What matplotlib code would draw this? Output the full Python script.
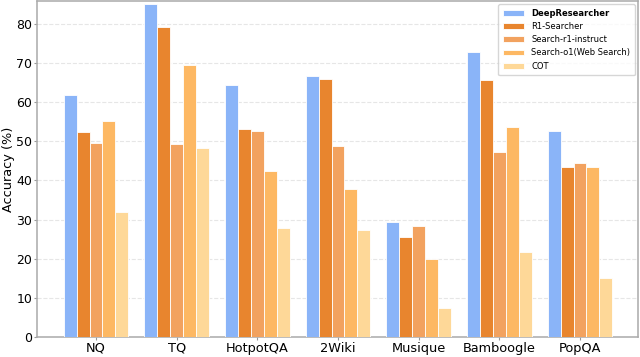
import numpy as np
import matplotlib.pyplot as plt

datasets = ["NQ", "TQ", "HotpotQA", "2Wiki", "Musique", "Bamboogle", "PopQA"]
methods = ["DeepResearcher", "R1-Searcher", "Search-r1-instruct", "Search-o1(Web Search)", "COT"]

deepresearcher = [61.9, 85.0, 64.3, 66.6, 29.3, 72.8, 52.7]
r1_searcher = [52.3, 79.1, 53.1, 65.9, 25.6, 65.6, 43.4]
search_r1_instruct = [49.6, 49.2, 52.5, 48.8, 28.3, 47.2, 44.5]
search_o1 = [55.1, 69.5, 42.3, 37.8, 19.8, 53.6, 43.4]
cot = [32.0, 48.2, 27.9, 27.3, 7.4, 21.6, 15.1]

series = [deepresearcher, r1_searcher, search_r1_instruct, search_o1, cot]
colors = ["#8ab4f8", "#e8852e", "#f2a25f", "#fdb863", "#fed898"]

fig, ax = plt.subplots(figsize=(6.4, 3.57), dpi=100)
x = np.arange(len(datasets))
width = 0.16
for i, (vals, name, c) in enumerate(zip(series, methods, colors)):
    ax.bar(x + (i - 2) * width, vals, width, label=name, color=c,
           edgecolor="white", linewidth=0.6, zorder=3)

ax.set_xticks(x)
ax.set_xticklabels(datasets, fontsize=9.3)
ax.tick_params(axis="y", labelsize=9)
ax.tick_params(axis="both", length=2, pad=1.5, color="#999999")
ax.set_ylabel("Accuracy (%)", fontsize=9.3, labelpad=1)
ax.set_xlim(-0.73, 6.72)
ax.set_ylim(0, 85.8)
ax.yaxis.grid(True, linestyle="--", color="#e6e6e6", linewidth=0.8, zorder=0)
for s in ax.spines.values():
    s.set_color("#aaaaaa")
    s.set_linewidth(1.1)

leg = ax.legend(loc="upper right", fontsize=6.0, frameon=True, handlelength=2.6,
                borderpad=0.55, labelspacing=0.5, borderaxespad=0.4)
leg.get_frame().set_edgecolor("#cccccc")
leg.get_texts()[0].set_fontweight("bold")

plt.subplots_adjust(left=0.058, right=0.997, top=0.997, bottom=0.056)
plt.savefig("out.png", dpi=100)
